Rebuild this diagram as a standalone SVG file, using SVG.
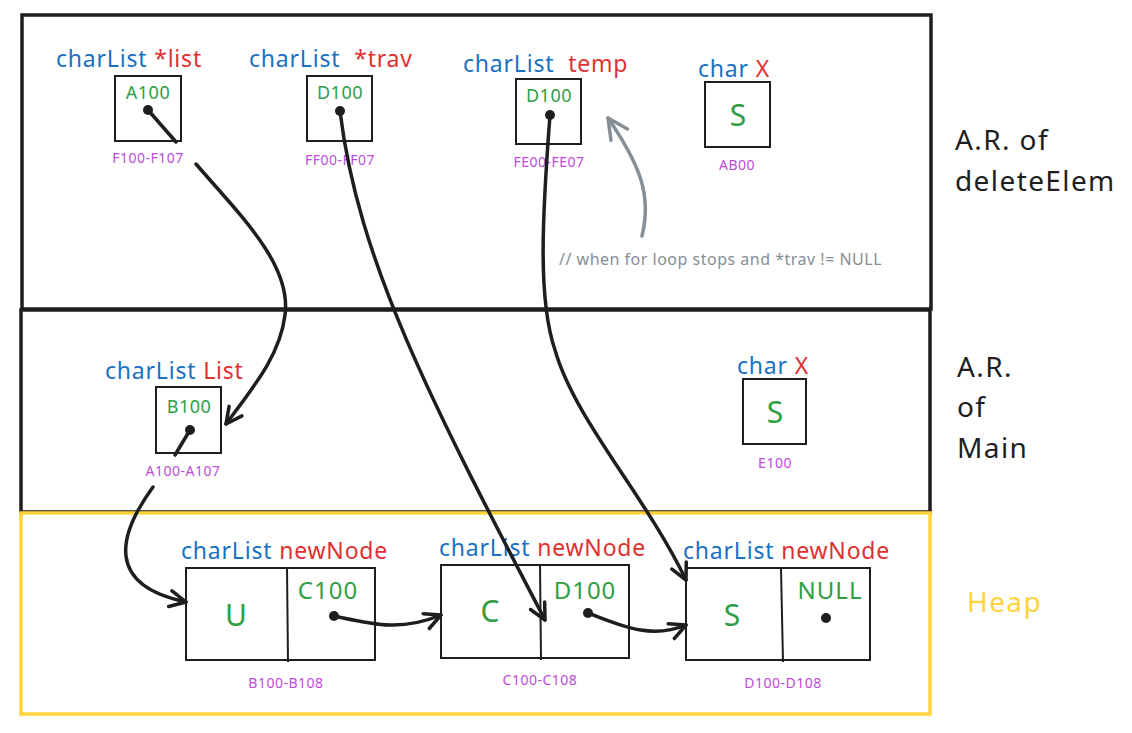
<svg xmlns="http://www.w3.org/2000/svg" width="1132" height="733" viewBox="0 0 1132 733">
<defs>
<style>
text{font-family:"Noto Sans","Open Sans",sans-serif}
.t{fill:#1971c2;font-size:23px;letter-spacing:0.8px}
.r{fill:#e03131}
.g{fill:#2f9e44}
.gs{font-size:18px;letter-spacing:0.5px}
.gm{font-size:24px;letter-spacing:1px}
.gl{font-size:30px}
.p{fill:#be4bdb;font-size:14px;letter-spacing:0.5px}
.k{fill:#1e1e1e;font-size:28px;letter-spacing:1.4px}
.box{fill:none;stroke:#1e1e1e;stroke-width:2}
.frame{fill:none;stroke:#1e1e1e;stroke-width:3.5}
.heap{fill:none;stroke:#ffd43b;stroke-width:3.5}
.c{fill:none;stroke:#1e1e1e;stroke-width:3.5;stroke-linecap:round;stroke-linejoin:round}
.dot{fill:#1e1e1e}
</style>
<marker id="ah" viewBox="0 0 20 20" refX="18" refY="10" markerWidth="20" markerHeight="20" markerUnits="userSpaceOnUse" orient="auto">
<path d="M2,2 L18,10 L2,18" fill="none" stroke="#1e1e1e" stroke-width="3.5" stroke-linecap="round" stroke-linejoin="round"/>
</marker>
<marker id="ahg" viewBox="0 0 24 24" refX="22" refY="12" markerWidth="24" markerHeight="24" markerUnits="userSpaceOnUse" orient="auto">
<path d="M2,2 L22,12 L2,22" fill="none" stroke="#868e96" stroke-width="3.5" stroke-linecap="round" stroke-linejoin="round"/>
</marker>
</defs>
<rect width="1132" height="733" fill="#ffffff"/>

<g id="frames">
<rect class="frame" x="22" y="15" width="909" height="294"/>
<rect class="frame" x="21" y="310" width="909" height="202"/>
<rect class="heap" x="21" y="513" width="909" height="201"/>
<text class="k" x="955" y="150">A.R. of</text>
<text class="k" x="955" y="191">deleteElem</text>
<text class="k" x="957" y="377">A.R.</text>
<text class="k" x="957" y="417">of</text>
<text class="k" x="957" y="458">Main</text>
<text class="k" x="967" y="612" style="fill:#ffd43b">Heap</text>
</g>

<g id="node-list">
<text class="t" x="56" y="67">charList <tspan class="r">*list</tspan></text>
<rect class="box" x="115" y="76" width="66" height="65"/>
<text class="g gs" x="148" y="99" text-anchor="middle">A100</text>
<circle class="dot" cx="148" cy="110" r="5"/>
<text class="p" x="148" y="163" text-anchor="middle">F100-F107</text>
</g>

<g id="node-trav">
<text class="t" x="249" y="67">charList <tspan class="r" dx="7">*trav</tspan></text>
<rect class="box" x="307" y="76" width="65" height="65"/>
<text class="g gs" x="340" y="99" text-anchor="middle">D100</text>
<circle class="dot" cx="340" cy="111" r="5"/>
<text class="p" x="340" y="165" text-anchor="middle">FF00-FF07</text>
</g>

<g id="node-temp">
<text class="t" x="463" y="72">charList <tspan class="r" dx="7">temp</tspan></text>
<rect class="box" x="516" y="79" width="65" height="65"/>
<text class="g gs" x="549" y="102" text-anchor="middle">D100</text>
<circle class="dot" cx="550" cy="115" r="5"/>
<text class="p" x="549" y="167" text-anchor="middle">FE00-FE07</text>
</g>

<g id="node-x1">
<text class="t" x="698" y="77">char <tspan class="r">X</tspan></text>
<rect class="box" x="705" y="82" width="65" height="65"/>
<text class="g gl" x="738" y="126" text-anchor="middle">S</text>
<text class="p" x="737" y="170" text-anchor="middle">AB00</text>
</g>

<g id="comment">
<text x="559" y="265" font-size="16" letter-spacing="0.5" fill="#868e96">// when for loop stops and *trav != NULL</text>
</g>

<g id="node-List">
<text class="t" x="105" y="379">charList <tspan class="r">List</tspan></text>
<rect class="box" x="156" y="387" width="65" height="66"/>
<text class="g gs" x="189" y="413" text-anchor="middle">B100</text>
<circle class="dot" cx="190" cy="430" r="5"/>
<text class="p" x="183" y="476" text-anchor="middle">A100-A107</text>
</g>

<g id="node-x2">
<text class="t" x="737" y="374">char <tspan class="r">X</tspan></text>
<rect class="box" x="743" y="379" width="63" height="65"/>
<text class="g gl" x="775" y="423" text-anchor="middle">S</text>
<text class="p" x="775" y="468" text-anchor="middle">E100</text>
</g>

<g id="heap-node1">
<text class="t" x="181" y="559">charList <tspan class="r">newNode</tspan></text>
<rect class="box" x="186" y="568" width="189" height="92"/>
<line class="box" x1="287" y1="568" x2="288" y2="662"/>
<text class="g gl" x="236" y="626" text-anchor="middle">U</text>
<text class="g gm" x="328" y="599" text-anchor="middle">C100</text>
<circle class="dot" cx="334" cy="616" r="5"/>
<text class="p" x="286" y="688" text-anchor="middle">B100-B108</text>
</g>

<g id="heap-node2">
<text class="t" x="439" y="556">charList <tspan class="r">newNode</tspan></text>
<rect class="box" x="441" y="565" width="188" height="93"/>
<line class="box" x1="540" y1="565" x2="541" y2="660"/>
<text class="g gl" x="490" y="622" text-anchor="middle">C</text>
<text class="g gm" x="585" y="599" text-anchor="middle">D100</text>
<circle class="dot" cx="588" cy="613" r="5"/>
<text class="p" x="540" y="685" text-anchor="middle">C100-C108</text>
</g>

<g id="heap-node3">
<text class="t" x="683" y="559">charList <tspan class="r">newNode</tspan></text>
<rect class="box" x="686" y="568" width="184" height="92"/>
<line class="box" x1="781" y1="568" x2="783" y2="662"/>
<text class="g gl" x="732" y="626" text-anchor="middle">S</text>
<text class="g gm" x="830" y="599" text-anchor="middle">NULL</text>
<circle class="dot" cx="826" cy="618" r="5"/>
<text class="p" x="783" y="688" text-anchor="middle">D100-D108</text>
</g>

<g id="connectors">
<path class="c" d="M148,110 L176,142"/>
<path class="c" d="M196,164 C240,215 292,265 285,315 C280,355 255,385 226,424" marker-end="url(#ah)"/>
<path class="c" d="M190,430 L175,455"/>
<path class="c" d="M153,487 C118,535 105,585 186,602" marker-end="url(#ah)"/>
<path class="c" d="M340,111 C358,260 430,400 545,620" marker-end="url(#ah)"/>
<path class="c" d="M550,115 C542,220 538,300 555,350 C575,420 645,495 686,580" marker-end="url(#ah)"/>
<path class="c" d="M334,616 C372,624 400,632 441,615" marker-end="url(#ah)"/>
<path class="c" d="M588,613 C620,625 650,640 686,625" stroke-width="4.5" marker-end="url(#ah)"/>
<path d="M642,236 C652,195 640,165 608,118" fill="none" stroke="#868e96" stroke-width="3.5" stroke-linecap="round" marker-end="url(#ahg)"/>
</g>
</svg>
